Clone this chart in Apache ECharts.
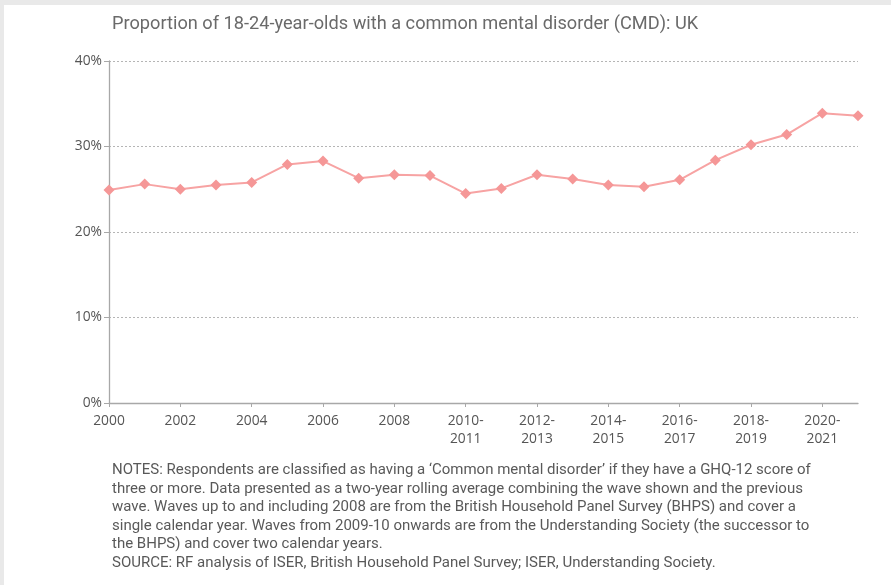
<!DOCTYPE html>
<html>
<head>
<meta charset="utf-8">
<script src="https://cdn.jsdelivr.net/npm/echarts@6/dist/echarts.min.js"></script>
<style>
html,body{margin:0;padding:0;background:#fff;}
#chart{width:891px;height:585px;}
</style>
</head>
<body>
<div id="chart"></div>
<script>
var titleText = 'Proportion of 18-24-year-olds with a common mental disorder (CMD): UK';
var categories = ['2000','2001','2002','2003','2004','2005','2006','2007','2008',
  '2009-\n2010','2010-\n2011','2011-\n2012','2012-\n2013','2013-\n2014','2014-\n2015',
  '2015-\n2016','2016-\n2017','2017-\n2018','2018-\n2019','2019-\n2020','2020-\n2021','2021-\n2022'];
var cmdShare = [24.9,25.6,25.0,25.5,25.8,27.9,28.3,26.3,26.7,26.6,24.5,25.1,26.7,26.2,25.5,25.3,26.1,28.4,30.2,31.4,33.9,33.6];
var yTicks = [0,10,20,30,40];
var notesLines = [
  "NOTES: Respondents are classified as having a \u2018Common mental disorder\u2019 if they have a GHQ-12 score of",
  "three or more. Data presented as a two-year rolling average combining the wave shown and the previous",
  "wave. Waves up to and including 2008 are from the British Household Panel Survey (BHPS) and cover a",
  "single calendar year. Waves from 2009-10 onwards are from the Understanding Society (the successor to",
  "the BHPS) and cover two calendar years.",
  "SOURCE: RF analysis of ISER, British Household Panel Survey; ISER, Understanding Society."
];

var chart = echarts.init(document.getElementById('chart'), null, {renderer:'canvas'});
chart.setOption({
  backgroundColor: '#ffffff',
  animation: false,
  title: {
    text: titleText,
    left: 107, top: 10,
    textStyle: {fontFamily: 'Roboto', fontSize: 18.2, fontWeight: 'normal', color: '#6a6a6a'}
  },
  grid: {left: 109, right: 33, top: 61, bottom: 182, containLabel: false},
  xAxis: {
    type: 'category',
    data: categories,
    boundaryGap: false,
    axisLine: {lineStyle: {color: '#a8a8a8', width: 1.3}},
    axisTick: {show: true, interval: 1, length: 4, lineStyle: {color: '#a8a8a8'}},
    axisLabel: {interval: 1, color: '#555', fontFamily: 'Open Sans', fontSize: 13.8, lineHeight: 18, margin: 9},
    splitLine: {show: false}
  },
  yAxis: {
    type: 'value',
    min: yTicks[0], max: yTicks[yTicks.length-1], interval: 10,
    axisLine: {show: true, lineStyle: {color: '#a8a8a8', width: 1.3}},
    axisTick: {show: true, length: 5, lineStyle: {color: '#a8a8a8'}},
    axisLabel: {color: '#555', fontFamily: 'Open Sans', fontSize: 13.8, margin: 7, formatter: '{value}%'},
    splitLine: {show: true, lineStyle: {color: '#b5b5b5', type: [2, 2], width: 1}}
  },
  series: [{
    type: 'line',
    data: cmdShare,
    symbol: 'diamond',
    symbolSize: 11,
    lineStyle: {color: '#f7a3a3', width: 2},
    itemStyle: {color: '#f59797'}
  }],
  graphic: [
    {type: 'rect', left: 0, top: 0, shape: {width: 891, height: 5}, style: {fill: '#e9e9e9'}, silent: true},
    {type: 'rect', left: 0, top: 0, shape: {width: 4, height: 585}, style: {fill: '#e9e9e9'}, silent: true},
    {type: 'text', left: 112, top: 461,
     style: {text: notesLines.join('\n'), fontFamily: 'Roboto', fontSize: 15, lineHeight: 18.6, fill: '#595959'}}
  ]
});
</script>
</body>
</html>
